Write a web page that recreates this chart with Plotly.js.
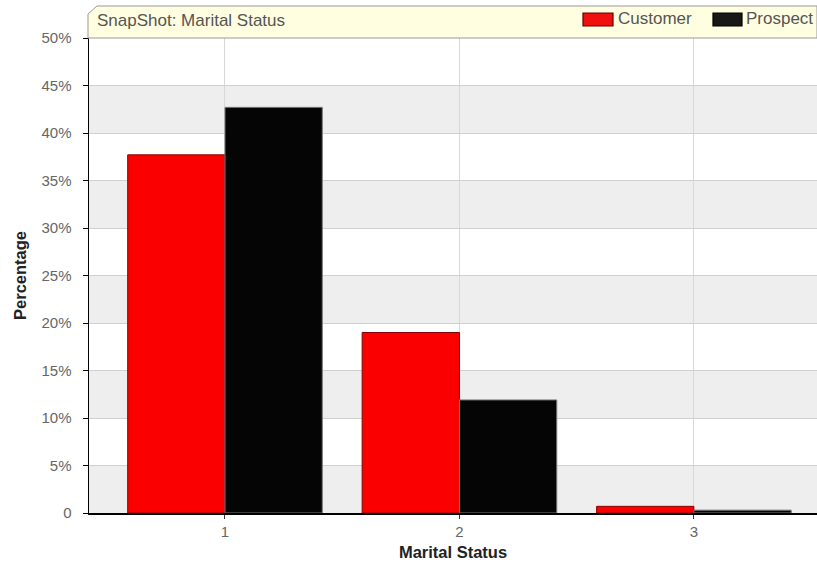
<!DOCTYPE html>
<html><head><meta charset="utf-8">
<script src="https://cdn.plot.ly/plotly-3.0.1.min.js"></script>
<style>html,body{margin:0;padding:0;background:#fff}#chart{width:817px;height:565px}</style>
</head><body><div id="chart"></div>
<script>
const categories = [1, 2, 3];
const seriesNames = ['Customer', 'Prospect'];
const customer = [37.7, 19.0, 0.7];
const prospect = [42.7, 11.9, 0.3];
const yTickVals = [0, 5, 10, 15, 20, 25, 30, 35, 40, 45, 50];
const yTickText = ['0', '5%', '10%', '15%', '20%', '25%', '30%', '35%', '40%', '45%', '50%'];

const W = 817, H = 565, L = 89, R = 0, T = 38, B = 52;
const px = x => (x - L) / (W - L - R);
const py = y => 1 + (T - y) / (H - T - B);

const shapes = [];
for (let i = 0; i < yTickVals.length - 1; i += 2) {
  shapes.push({type:'rect', xref:'paper', yref:'y', x0:0, x1:1, y0:yTickVals[i], y1:yTickVals[i+1],
    fillcolor:'#eeeeee', line:{width:0}, layer:'below'});
}
// title banner
shapes.push({type:'path', xref:'paper', yref:'paper',
  path:`M ${px(88)} ${py(38)} L ${px(88)} ${py(14)} L ${px(97)} ${py(6)} L ${px(817)} ${py(6)} L ${px(817)} ${py(38)} Z`,
  fillcolor:'#fffee0', line:{color:'#999999', width:1}, layer:'above'});
// legend swatches
const swatch = [
  {x0:583, x1:613, fill:'#f01010', line:'#600000'},
  {x0:713, x1:742, fill:'#181818', line:'#000000'}
];
swatch.forEach(s => shapes.push({type:'rect', xref:'paper', yref:'paper',
  x0:px(s.x0), x1:px(s.x1), y0:py(26), y1:py(13), fillcolor:s.fill, line:{color:s.line, width:1.2}, layer:'above'}));

const traces = [
  {type:'bar', name:seriesNames[0], x:categories, y:customer,
   marker:{color:'#fb0000', line:{color:'#8a0000', width:1}}},
  {type:'bar', name:seriesNames[1], x:categories, y:prospect,
   marker:{color:'#050505', line:{color:'#777777', width:1}}}
];

const layout = {
  width:W, height:H,
  margin:{l:L, r:R, t:T, b:B, pad:0},
  paper_bgcolor:'#ffffff', plot_bgcolor:'#ffffff',
  font:{family:'Liberation Sans, Arial, sans-serif', size:12, color:'#555555'},
  barmode:'group', bargap:0.17, bargroupgap:0,
  showlegend:false,
  xaxis:{range:[0.42, 3.525], tickvals:categories, ticktext:categories.map(String),
    showgrid:true, gridcolor:'#d8d8d8', zeroline:false, showline:true, linecolor:'#000', linewidth:1.5,
    ticks:'outside', ticklen:4, tickcolor:'#333', tickfont:{size:15, color:'#666666'},
    title:{text:'<b>Marital Status</b>', font:{size:16.5, color:'#222222'}, standoff:8}},
  yaxis:{range:[0, 50], tickvals:yTickVals, ticktext:yTickText,
    showgrid:true, gridcolor:'#d0d0d0', zeroline:false, showline:true, linecolor:'#000', linewidth:1.5,
    ticks:'outside', ticklen:5, tickcolor:'#000', ticklabelstandoff:8, tickfont:{size:15, color:'#666666'},
    title:{text:'<b>Percentage</b>', font:{size:16.5, color:'#222222'}, standoff:10}},
  shapes:shapes,
  annotations:[
    {xref:'paper', yref:'paper', x:px(95), y:py(21), xanchor:'left', yanchor:'middle',
     text:'SnapShot: Marital Status', showarrow:false, font:{size:17, color:'#555555'}},
    {xref:'paper', yref:'paper', x:px(616), y:py(19), xanchor:'left', yanchor:'middle',
     text:seriesNames[0], showarrow:false, font:{size:17, color:'#555555'}},
    {xref:'paper', yref:'paper', x:px(744), y:py(19), xanchor:'left', yanchor:'middle',
     text:seriesNames[1], showarrow:false, font:{size:17, color:'#555555'}}
  ]
};
Plotly.newPlot('chart', traces, layout, {displayModeBar:false, staticPlot:true});
</script></body></html>
